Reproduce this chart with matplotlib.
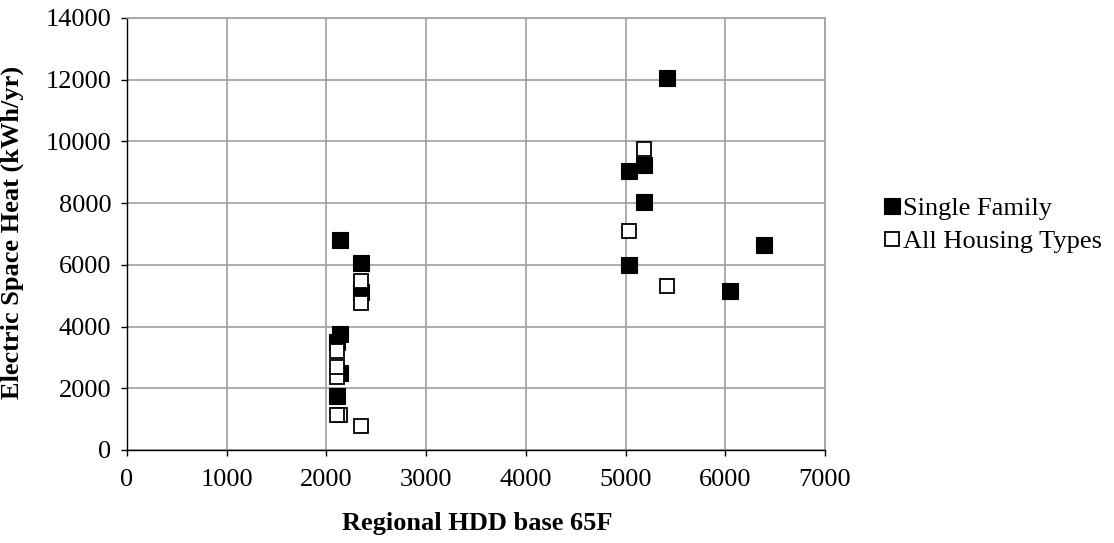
# Electric space heat vs regional heating degree days

import matplotlib
matplotlib.use("Agg")
import matplotlib.pyplot as plt

# -------------------------
# Data
# -------------------------
sf_hdd = [2140, 2350, 2350, 2140, 2110, 2140, 2110,
          5420, 5180, 5030, 5180, 6390, 5030, 6050]
sf_heat = [6800, 6070, 5130, 3770, 3500, 2500, 1750,
           12050, 9250, 9050, 8050, 6650, 6000, 5150]

all_hdd = [2350, 2350, 2140, 2110, 2110, 2110, 2110, 2350,
           5180, 5030, 5420]
all_heat = [5480, 4780, 1130, 1140, 2380, 2700, 3200, 770,
            9750, 7100, 5300]

x_ticks = [0, 1000, 2000, 3000, 4000, 5000, 6000, 7000]
y_ticks = [0, 2000, 4000, 6000, 8000, 10000, 12000, 14000]

# -------------------------
# Plot
# -------------------------
plt.rcParams['font.family'] = ['Liberation Serif', 'DejaVu Serif']

W, H = 1114, 543
fig = plt.figure(figsize=(W / 100, H / 100), dpi=100)
ax = fig.add_axes([127 / W, 1 - 450 / H, 698 / W, 432 / H])

ax.plot(sf_hdd, sf_heat, linestyle='none', marker='s', markersize=11.8,
        markerfacecolor='black', markeredgecolor='black', markeredgewidth=0.8,
        label='Single Family', zorder=3)
ax.plot(all_hdd, all_heat, linestyle='none', marker='s', markersize=10.7,
        markerfacecolor='white', markeredgecolor='black', markeredgewidth=1.3,
        label='All Housing Types', zorder=4)

ax.set_xlim(0, 7000)
ax.set_ylim(0, 14000)
ax.set_xticks(x_ticks)
ax.set_yticks(y_ticks)
ax.tick_params(labelsize=19, direction='out', length=4.3, width=1, colors='black')
ax.tick_params(axis='x', pad=9.5)
ax.tick_params(axis='y', pad=7)
ax.grid(True, color='#a0a0a0', linewidth=1.2)
ax.set_axisbelow(True)

for side in ['top', 'right']:
    ax.spines[side].set_color('#a0a0a0')
    ax.spines[side].set_linewidth(1.2)
for side in ['left', 'bottom']:
    ax.spines[side].set_color('black')
    ax.spines[side].set_linewidth(1)

# axis titles
fig.text(477 / W, 1 - 530 / H, "Regional HDD base 65F", fontsize=19,
         fontweight='bold', ha='center', va='baseline')
fig.text(12 / W, 1 - 232 / H, "Electric Space Heat (kWh/yr)", fontsize=19,
         fontweight='bold', ha='center', va='center', rotation=90)

fig.legend(loc='center left', bbox_to_anchor=(883 / W, 1 - 225 / H),
           frameon=False, fontsize=19, handlelength=0.7, handletextpad=0.05,
           labelspacing=0.35, borderpad=0, borderaxespad=0)

fig.savefig("out.png", dpi=100)
